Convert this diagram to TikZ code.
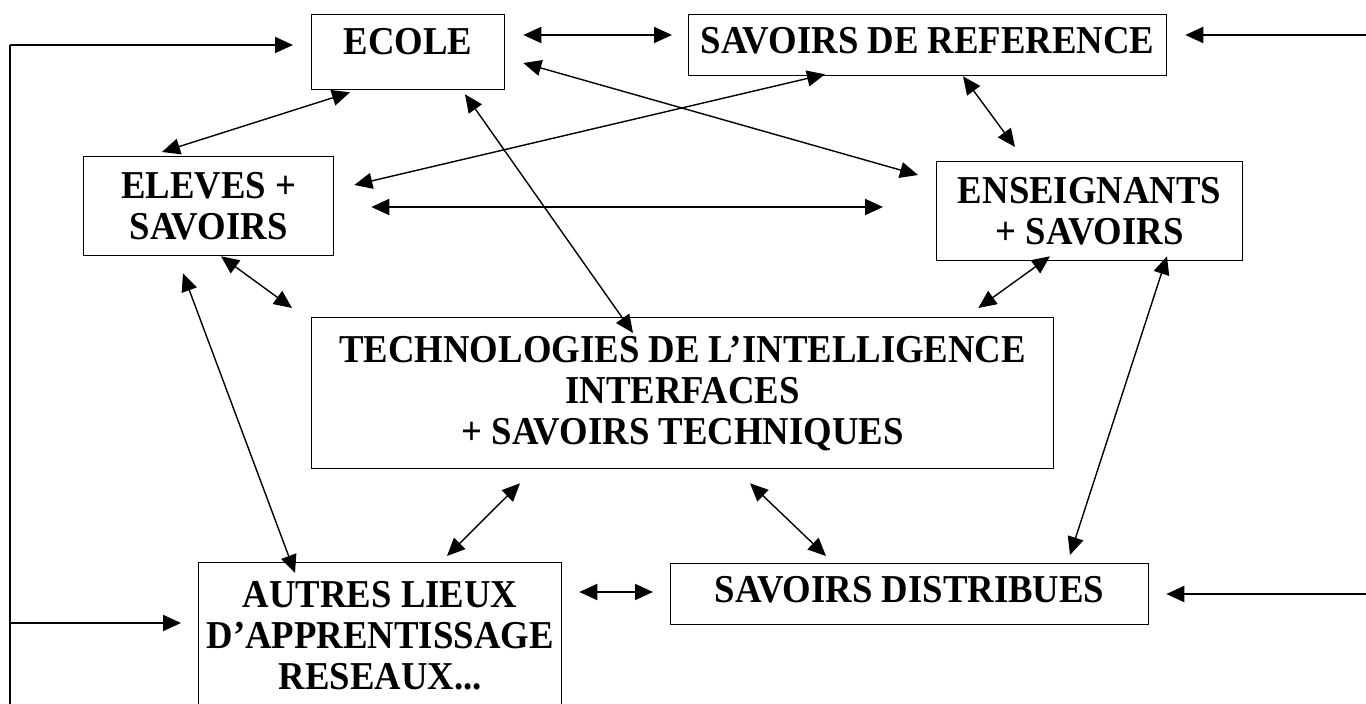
\documentclass[tikz,border=0pt]{standalone}
\usepackage{fontspec}
\setmainfont{Liberation Serif}[FakeStretch=0.93]
\usetikzlibrary{arrows.meta}

\begin{document}
\begin{tikzpicture}[x=1pt, y=-1pt,
  box/.style={draw, line width=1.3pt, inner sep=0pt, anchor=north west, align=center,
    font=\fontsize{39.5}{41}\selectfont\bfseries},
  link/.style={{Triangle[length=18pt,width=16pt]}-{Triangle[length=18pt,width=16pt]}, line width=1.4pt},
  feed/.style={-{Triangle[length=18pt,width=16pt]}, line width=2pt}]

\useasboundingbox (0,0) rectangle (1366,704);

\node[box, minimum width=193pt, text height=40pt, text depth=35pt] (ecole) at (311,14) {ECOLE};
\node[box, minimum width=478pt, text height=39pt, text depth=22pt] (savref) at (688,14) {SAVOIRS DE REFERENCE};
\node[box, minimum width=250pt, minimum height=99pt] (eleves) at (83,156) {ELEVES +\\SAVOIRS};
\node[box, minimum width=306pt, minimum height=99pt] (ens) at (936,161) {ENSEIGNANTS\\+ SAVOIRS};
\node[box, minimum width=742pt, minimum height=151pt] (tech) at (311,317) {TECHNOLOGIES DE L’INTELLIGENCE\\INTERFACES\\+ SAVOIRS TECHNIQUES};
\node[box, minimum width=363pt, minimum height=146pt] (autres) at (198,562) {AUTRES LIEUX\\D’APPRENTISSAGE\\RESEAUX...};
\node[box, minimum width=478pt, text height=39pt, text depth=22pt] (sd) at (670,563) {SAVOIRS DISTRIBUES};

\coordinate (bus) at (10,45);
\coordinate (busend) at (10,712);
\coordinate (autresin) at ([shift={(-17,61)}]autres.north west);
\coordinate (reftop) at (1366,35);
\coordinate (sdin) at (1366,594);

\draw[line width=2pt] (busend) -- (bus);
\draw[feed] (bus) -- ([shift={(-18,31)}]ecole.north west);
\draw[feed] (bus |- autresin) -- (autresin);
\draw[feed] (reftop) -- ([shift={(18,21)}]savref.north east);
\draw[feed] (sdin) -- ([shift={(17,31)}]sd.north east);

\draw[link, line width=2pt] ([shift={(18,21)}]ecole.north east) -- ([shift={(-16,21)}]savref.north west);
\draw[link] ([shift={(39,2)}]ecole.south west) -- ([shift={(79,-4)}]eleves.north west);
\draw[link] ([shift={(154,4)}]ecole.south west) -- ([shift={(322,16)}]tech.north west);
\draw[link] ([shift={(18,49)}]ecole.north east) -- ([shift={(-18,14)}]ens.north west);
\draw[link] ([shift={(137,-2)}]savref.south west) -- ([shift={(20,29)}]eleves.north east);
\draw[link] ([shift={(275,0)}]savref.south west) -- ([shift={(79,-14)}]ens.north west);
\draw[link, line width=2pt] ([shift={(37,51)}]eleves.north east) -- ([shift={(-53,46)}]ens.north west);
\draw[link] ([shift={(138,0)}]eleves.south west) -- ([shift={(-19,-9)}]tech.north west);
\draw[link] ([shift={(100,17)}]eleves.south west) -- ([shift={(97,11)}]autres.north west);
\draw[link] ([shift={(114,-5)}]ens.south west) -- ([shift={(-76,-9)}]tech.north east);
\draw[link] ([shift={(231,-5)}]ens.south west) -- ([shift={(400,-8)}]sd.north west);
\draw[link] ([shift={(209,14)}]tech.south west) -- ([shift={(249,-6)}]autres.north west);
\draw[link] ([shift={(439,14)}]tech.south west) -- ([shift={(156,-7)}]sd.north west);
\draw[link, line width=2pt] ([shift={(17,30)}]autres.north east) -- ([shift={(-17,29)}]sd.north west);
\end{tikzpicture}
\end{document}
